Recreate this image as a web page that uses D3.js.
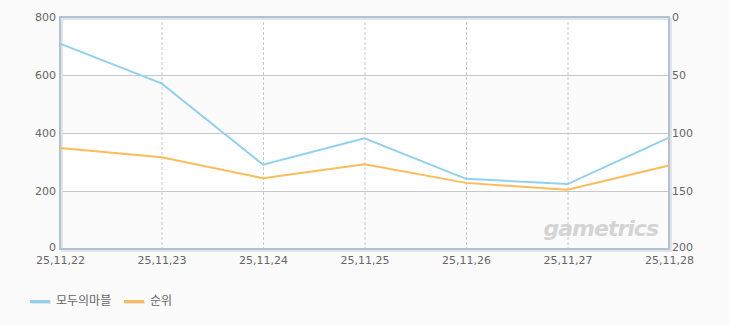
<html>
<head>
<style>
body { margin: 0; background: #fbfbfb; }
svg { font-family: 'DejaVu Sans', 'Noto Sans CJK KR', sans-serif; }
</style>
</head>
<body>
<svg></svg>
<script src="https://d3js.org/d3.v7.min.js"></script>
<script>
const dates = ['25.11.22', '25.11.23', '25.11.24', '25.11.25', '25.11.26', '25.11.27', '25.11.28'];
const users = [708, 571, 291, 382, 242, 224, 384];
const ranks = [113, 121, 139, 127, 143, 149, 128];
const leftTicks = [0, 200, 400, 600, 800];
const rightTicks = [0, 50, 100, 150, 200];
const seriesNames = ['모두의마블', '순위'];
const colors = ['#92d0f0', '#fbbd5a'];

const W = 730, H = 325;
const m = {top: 17, right: 61, bottom: 76, left: 60};

const svg = d3.select('svg').attr('width', W).attr('height', H);

const x = d3.scalePoint().domain(dates).range([m.left, W - m.right]);
const yL = d3.scaleLinear().domain([0, 800]).range([H - m.bottom, m.top]);
const yR = d3.scaleLinear().domain([0, 200]).range([m.top, H - m.bottom]);

// bands
const bands = d3.pairs(leftTicks);
svg.append('g').selectAll('rect').data(bands).join('rect')
    .attr('x', m.left).attr('width', W - m.right - m.left)
    .attr('y', d => yL(d[1])).attr('height', d => yL(d[0]) - yL(d[1]))
    .attr('fill', (d, i) => i % 2 ? '#ffffff' : '#fbfbfb');

// horizontal grid
svg.append('g').selectAll('line').data(leftTicks.slice(1, -1)).join('line')
    .attr('x1', m.left).attr('x2', W - m.right)
    .attr('y1', d => yL(d) + 0.5).attr('y2', d => yL(d) + 0.5)
    .attr('stroke', '#c8c8c8');

// vertical dashed grid
svg.append('g').selectAll('line').data(dates.slice(1, -1)).join('line')
    .attr('x1', d => x(d) + 0.5).attr('x2', d => x(d) + 0.5)
    .attr('y1', m.top).attr('y2', H - m.bottom)
    .attr('stroke', '#c8c8c8').attr('stroke-dasharray', '3,2');

// watermark
svg.append('text')
    .attr('x', 658).attr('y', 236).attr('text-anchor', 'end')
    .attr('font-size', 22).attr('font-weight', 'bold').attr('font-style', 'italic')
    .attr('fill', '#d4d4d4').attr('font-family', 'Verdana, DejaVu Sans, sans-serif')
    .attr('letter-spacing', -1)
    .text('gametrics');

// frame shadow + border
const fr = {x0: m.left, y0: m.top, x1: W - m.right, y1: H - m.bottom};
svg.append('rect')
    .attr('x', fr.x0 + 2).attr('y', fr.y0 + 2)
    .attr('width', fr.x1 - fr.x0).attr('height', fr.y1 - fr.y0)
    .attr('fill', 'none').attr('stroke', '#e4e4e4').attr('stroke-width', 2);
svg.append('rect')
    .attr('x', fr.x0).attr('y', fr.y0)
    .attr('width', fr.x1 - fr.x0).attr('height', fr.y1 - fr.y0)
    .attr('fill', 'none').attr('stroke', '#afc2d6').attr('stroke-width', 2);

// axes
const leftAxis = svg.append('g')
    .attr('transform', `translate(${m.left - 1},0)`)
    .call(d3.axisLeft(yL).tickValues(leftTicks).tickSize(0).tickPadding(3));
const rightAxis = svg.append('g')
    .attr('transform', `translate(${W - m.right + 1},0)`)
    .call(d3.axisRight(yR).tickValues(rightTicks).tickSize(0).tickPadding(2));
const bottomAxis = svg.append('g')
    .attr('transform', `translate(0,${H - m.bottom + 3})`)
    .call(d3.axisBottom(x).tickSize(0).tickPadding(4).tickFormat(d => d.replace(/\./g, ',')));
[leftAxis, rightAxis, bottomAxis].forEach(a => {
    a.select('.domain').remove();
    a.selectAll('text').attr('fill', '#666').attr('font-size', 11)
        .attr('font-family', 'DejaVu Sans, sans-serif');
});
leftAxis.selectAll('text').filter(d => d === 0).attr('dy', '0.1em');
rightAxis.selectAll('text').filter(d => d === 200).attr('dy', '0.1em');

// lines
const lineL = d3.line().x((d, i) => x(dates[i])).y(d => yL(d));
const lineR = d3.line().x((d, i) => x(dates[i])).y(d => yR(d));
svg.append('path').datum(users).attr('d', lineL)
    .attr('fill', 'none').attr('stroke', colors[0]).attr('stroke-width', 2);
svg.append('path').datum(ranks).attr('d', lineR)
    .attr('fill', 'none').attr('stroke', colors[1]).attr('stroke-width', 2);

// legend
const legendX = [30, 124];
const leg = svg.append('g').selectAll('g').data(seriesNames).join('g')
    .attr('transform', (d, i) => `translate(${legendX[i]},301)`);
leg.append('rect').attr('x', 1).attr('y', 0).attr('width', 20).attr('height', 3).attr('fill', '#e2e2e2');
leg.append('rect').attr('x', 0).attr('y', -1).attr('width', 20).attr('height', 3).attr('fill', (d, i) => colors[i]);
leg.append('text').attr('x', 26).attr('y', 4)
    .attr('font-size', 12).attr('fill', '#666')
    .attr('font-family', 'Noto Sans CJK KR, sans-serif')
    .text(d => d);
</script>
</body>
</html>
